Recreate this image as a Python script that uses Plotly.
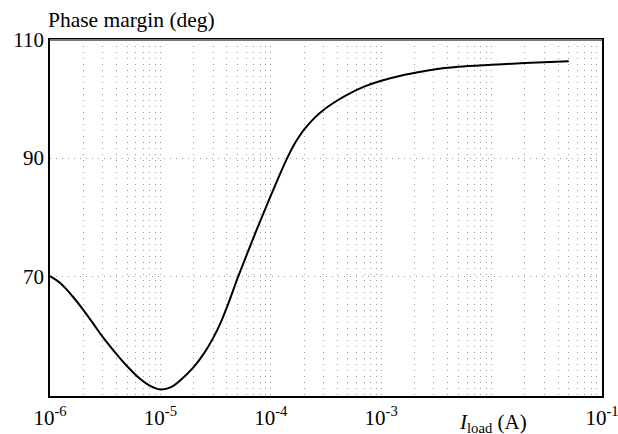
import plotly.graph_objects as go

# Load current (A) and phase margin (deg)
i_load = [1.0e-6, 1.25e-6, 1.6e-6, 2.0e-6, 2.5e-6, 3.0e-6, 4.0e-6, 5.0e-6, 6.5e-6, 8.0e-6,
          1.0e-5, 1.25e-5, 1.5e-5, 2.0e-5, 2.5e-5, 3.0e-5, 3.5e-5, 4.0e-5, 4.5e-5, 5.0e-5,
          6.0e-5, 7.0e-5, 8.0e-5, 1.0e-4, 1.2e-4, 1.4e-4, 1.6e-4, 1.8e-4, 2.0e-4, 2.5e-4,
          3.0e-4, 4.0e-4, 5.0e-4, 7.0e-4, 1.0e-3, 1.5e-3, 2.0e-3, 3.0e-3, 5.0e-3, 1.0e-2,
          2.0e-2, 5.0e-2]
phase_margin = [70.0, 68.75, 66.6, 64.3, 61.8, 59.7, 56.8, 54.75, 52.65, 51.45,
                50.8, 51.2, 52.3, 54.6, 57.0, 59.5, 62.05, 64.72, 67.3, 69.65,
                73.45, 76.6, 79.27, 83.63, 87.1, 89.9, 92.05, 93.6, 94.8, 96.85,
                98.15, 99.75, 100.8, 102.1, 103.1, 103.95, 104.4, 105.0, 105.45, 105.8,
                106.1, 106.4]

decades = [-6, -5, -4, -3, -2]
labelled_decades = [-6, -5, -4, -3, -1]
y_ticks = [70, 90, 110]
y_range = [49.7, 110]

x_tickvals = []
x_ticktext = []
for d in decades:
    for k in range(1, 10):
        x_tickvals.append(k * 10.0 ** d)
        x_ticktext.append(f"10<sup>{d}</sup>" if (k == 1 and d in labelled_decades) else "")
x_tickvals.append(10.0 ** -1)
x_ticktext.append("10<sup>-1</sup>")

FONT = "Liberation Serif, Times New Roman, serif"
GRID = "#9a9a9a"

fig = go.Figure()
fig.add_trace(go.Scatter(
    x=i_load, y=phase_margin, mode="lines",
    line=dict(color="black", width=2, shape="spline", smoothing=1.0),
    hoverinfo="skip", showlegend=False,
))

fig.update_layout(
    width=618, height=434,
    margin=dict(l=50, r=16, t=40, b=38, autoexpand=False),
    paper_bgcolor="white", plot_bgcolor="white",
    font=dict(family=FONT, color="black", size=20),
    xaxis=dict(
        type="log", range=[-6, -1], automargin=False,
        tickmode="array", tickvals=x_tickvals, ticktext=x_ticktext,
        showgrid=True, gridcolor=GRID, gridwidth=1, griddash="1px,5px",
        showline=True, linecolor="black", linewidth=1.5, mirror=True,
        ticks="", ticklabelstandoff=2, ticklabeloverflow="allow",
        tickfont=dict(family=FONT, size=21, color="black"),
        zeroline=False,
    ),
    yaxis=dict(
        range=y_range, tickmode="array", tickvals=y_ticks, automargin=False,
        showgrid=True, gridcolor=GRID, gridwidth=1, griddash="1px,5px",
        showline=True, linecolor="black", linewidth=1.5, mirror=True,
        ticks="", ticklabelstandoff=0,
        tickfont=dict(family=FONT, size=21, color="black"),
        zeroline=False,
    ),
    shapes=[dict(type="line", xref="paper", yref="paper", x0=0, x1=1, y0=1, y1=1,
                 line=dict(color="#7a7a7a", width=2))],
    annotations=[
        dict(text="Phase margin (deg)", xref="paper", yref="paper",
             x=-0.008, y=1.055, xanchor="left", yanchor="middle", showarrow=False,
             font=dict(family=FONT, size=21.5, color="black")),
        dict(text="<i>I</i><sub>load</sub> (A)", xref="paper", yref="paper",
             x=0.803, y=-0.076, xanchor="center", yanchor="middle", showarrow=False,
             font=dict(family=FONT, size=21, color="black")),
    ],
)

fig.write_html("out.html")
